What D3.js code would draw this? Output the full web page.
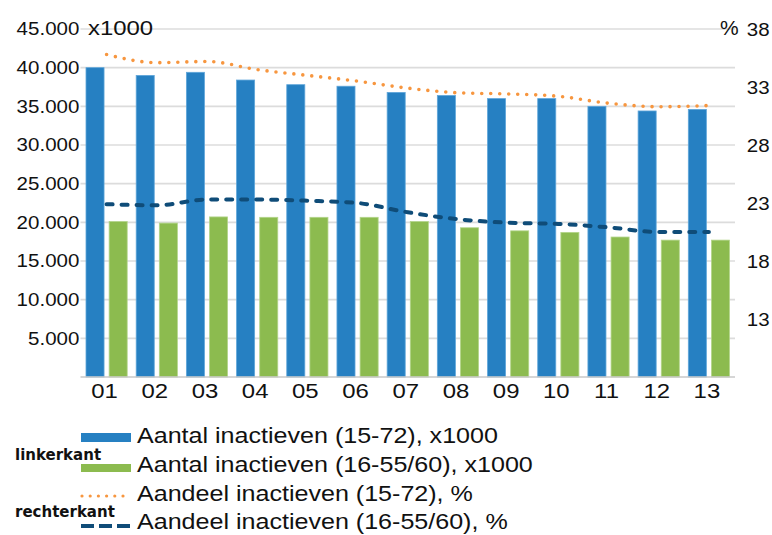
<!DOCTYPE html>
<html>
<head>
<meta charset="utf-8">
<script src="https://cdn.jsdelivr.net/npm/d3@7"></script>
<style>
  body { margin: 0; background: #fff; }
  svg { display: block; }
  text { font-family: "Liberation Sans", Arial, sans-serif; fill: #111; }
  text.side { font-family: "DejaVu Sans", sans-serif; font-weight: bold; }
</style>
</head>
<body>
<svg width="772" height="535"></svg>
<script>
// data
const categories = ["01","02","03","04","05","06","07","08","09","10","11","12","13"];
const inactief1572 = [40000, 39000, 39400, 38400, 37800, 37600, 36800, 36400, 36000, 36000, 35000, 34400, 34600];
const inactief1655 = [20100, 19900, 20700, 20650, 20650, 20650, 20100, 19300, 18900, 18700, 18100, 17700, 17700];
const aandeel1572 = [35.8, 35.1, 35.2, 34.5, 34.0, 33.5, 32.9, 32.5, 32.4, 32.2, 31.6, 31.3, 31.4];
const aandeel1655 = [22.9, 22.8, 23.3, 23.3, 23.2, 23.0, 22.2, 21.6, 21.3, 21.2, 20.9, 20.5, 20.5];
const leftTicks = [5000, 10000, 15000, 20000, 25000, 30000, 35000, 40000, 45000];
const rightTicks = [13, 18, 23, 28, 33, 38];
const legendLabels = [
  "Aantal inactieven (15-72), x1000",
  "Aantal inactieven (16-55/60), x1000",
  "Aandeel inactieven (15-72), %",
  "Aandeel inactieven (16-55/60), %"
];

const svg = d3.select("svg");
const stretch = "scale(1.14,1)";

const blue = "#2680c2", green = "#8cbb4f", orange = "#f7963f", navy = "#0f4c78";

const plot = { left: 81.5, right: 734, top: 29, bottom: 377 };

const xScale = d3.scaleBand()
  .domain(categories)
  .range([plot.left, plot.right]);
const bw = xScale.bandwidth();

const sub = d3.scaleBand()
  .domain(["a", "b"])
  .range([4.5, bw - 4.5])
  .paddingInner(0.22);

const yLeft = d3.scaleLinear().domain([0, 45000]).range([plot.bottom, plot.top]);
const yRight = d3.scaleLinear().domain([8, 38]).range([plot.bottom, plot.top]);

const nl = d3.formatLocale({ decimal: ",", thousands: ".", grouping: [3], currency: ["", ""] });
const fmt = nl.format(",");

// gridlines
svg.append("g").selectAll("line").data(leftTicks)
  .enter().append("line")
    .attr("x1", plot.left - 1).attr("x2", plot.right + 1)
    .attr("y1", d => yLeft(d)).attr("y2", d => yLeft(d))
    .attr("stroke", "#dcdcdc").attr("stroke-width", 1.6);

// bars
const bars = svg.append("g");
bars.selectAll("rect.b1").data(categories)
  .enter().append("rect").attr("class", "b1")
    .attr("x", d => xScale(d) + sub("a"))
    .attr("width", sub.bandwidth())
    .attr("y", (d, i) => yLeft(inactief1572[i]))
    .attr("height", (d, i) => plot.bottom - yLeft(inactief1572[i]))
    .attr("fill", blue).attr("stroke", "#5fa6da").attr("stroke-width", 0.8);
bars.selectAll("rect.b2").data(categories)
  .enter().append("rect").attr("class", "b2")
    .attr("x", d => xScale(d) + sub("b"))
    .attr("width", sub.bandwidth())
    .attr("y", (d, i) => yLeft(inactief1655[i]))
    .attr("height", (d, i) => plot.bottom - yLeft(inactief1655[i]))
    .attr("fill", green).attr("stroke", "#b3d58a").attr("stroke-width", 0.8);

// baseline
svg.append("line")
  .attr("x1", plot.left - 1).attr("x2", plot.right + 1)
  .attr("y1", plot.bottom).attr("y2", plot.bottom)
  .attr("stroke", "#c8c8c8").attr("stroke-width", 1.6);

// lines on right axis
const line = d3.line()
  .x((d, i) => xScale(categories[i]) + bw / 2)
  .y(d => yRight(d))
  .curve(d3.curveMonotoneX);

svg.append("path").datum(aandeel1572)
  .attr("d", line)
  .attr("fill", "none").attr("stroke", orange)
  .attr("stroke-width", 3.6).attr("stroke-linecap", "round")
  .attr("stroke-dasharray", "0 9");

svg.append("path").datum(aandeel1655)
  .attr("d", line)
  .attr("fill", "none").attr("stroke", navy)
  .attr("stroke-width", 4).attr("stroke-linecap", "round")
  .attr("stroke-dasharray", "6 9");

// axes
const axLeft = svg.append("g")
  .attr("transform", `translate(${plot.left - 1},0)`)
  .call(d3.axisLeft(yLeft).tickValues(leftTicks).tickFormat(fmt).tickSize(0).tickPadding(1));
axLeft.select(".domain").remove();
axLeft.selectAll("text")
  .attr("font-size", 18).attr("fill", "#111")
  .attr("transform", stretch);

const axRight = svg.append("g")
  .attr("transform", `translate(${plot.right + 1},0)`)
  .call(d3.axisRight(yRight).tickValues(rightTicks).tickSize(0).tickPadding(11));
axRight.select(".domain").remove();
axRight.selectAll("text")
  .attr("font-size", 19).attr("fill", "#111")
  .attr("transform", "scale(1.08,1)");

const axBottom = svg.append("g")
  .attr("transform", `translate(-2,${plot.bottom})`)
  .call(d3.axisBottom(xScale).tickSize(0).tickPadding(6));
axBottom.select(".domain").remove();
axBottom.selectAll("text")
  .attr("font-size", 21).attr("fill", "#111")
  .attr("transform", stretch);

// unit labels
svg.append("g").attr("transform", `translate(88,35) ${stretch}`)
  .append("text").attr("font-size", 21).text("x1000");
svg.append("g").attr("transform", `translate(720,35) scale(1.05,1)`)
  .append("text").attr("font-size", 20).text("%");

// legend
const legY = [443, 472, 501, 529];
const leg = svg.append("g");
leg.append("rect").attr("x", 81).attr("y", 433).attr("width", 50).attr("height", 9).attr("fill", blue);
leg.append("rect").attr("x", 81).attr("y", 464).attr("width", 50).attr("height", 8).attr("fill", green);
leg.append("line").attr("x1", 82).attr("x2", 131).attr("y1", 496).attr("y2", 496)
  .attr("stroke", orange).attr("stroke-width", 3.2).attr("stroke-linecap", "round")
  .attr("stroke-dasharray", "0 8.2");
leg.append("line").attr("x1", 81).attr("x2", 131).attr("y1", 526).attr("y2", 526)
  .attr("stroke", navy).attr("stroke-width", 4)
  .attr("stroke-dasharray", "13 5");

legendLabels.forEach((t, i) => {
  leg.append("g").attr("transform", `translate(137,${legY[i]}) ${stretch}`)
    .append("text").attr("font-size", 22).text(t);
});

leg.append("text").attr("class", "side").attr("x", 15).attr("y", 460)
  .attr("font-size", 15).text("linkerkant");
leg.append("text").attr("class", "side").attr("x", 15).attr("y", 517)
  .attr("font-size", 15).text("rechterkant");
</script>
</body>
</html>
